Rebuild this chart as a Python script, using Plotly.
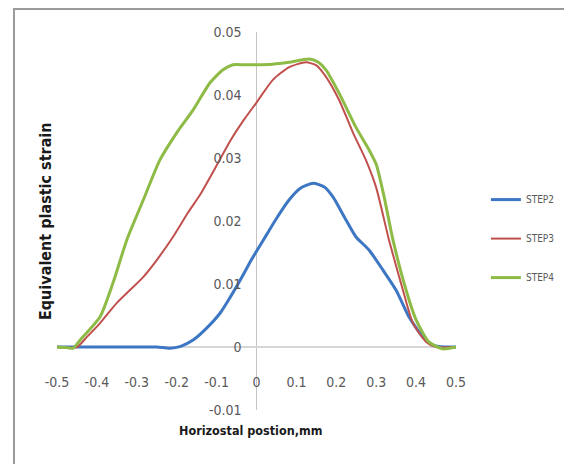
import plotly.graph_objects as go

# ---- data ----
x_step2 = [-0.5, -0.4, -0.3, -0.25, -0.217, -0.19, -0.159, -0.125, -0.091, -0.065, -0.041, -0.015,
           0.0, 0.025, 0.05, 0.081, 0.11, 0.142, 0.17, 0.192, 0.224, 0.249, 0.282, 0.317, 0.35,
           0.382, 0.417, 0.442, 0.47, 0.5]
y_step2 = [0, 0, 0, 0, -0.0002, 0.0001, 0.0011, 0.003, 0.0054, 0.008, 0.0106, 0.0136,
           0.0152, 0.0178, 0.0204, 0.0233, 0.0252, 0.026, 0.0254, 0.0238, 0.0202, 0.0175, 0.0154,
           0.0122, 0.009, 0.0048, 0.0016, 0.0003, 0, 0]

x_step3 = [-0.5, -0.45, -0.425, -0.392, -0.35, -0.284, -0.25, -0.209, -0.17, -0.143, -0.1, -0.066,
           -0.03, 0.0, 0.041, 0.081, 0.124, 0.15, 0.175, 0.207, 0.242, 0.274, 0.3, 0.332, 0.367,
           0.392, 0.425, 0.45, 0.5]
y_step3 = [0, 0, 0.0016, 0.0038, 0.007, 0.0111, 0.0138, 0.0175, 0.0215, 0.024, 0.0288, 0.0327,
           0.0362, 0.0388, 0.0424, 0.0444, 0.0452, 0.0447, 0.0428, 0.0392, 0.034, 0.0297, 0.0253,
           0.017, 0.009, 0.0038, 0.0008, 0, 0]

x_step4 = [-0.5, -0.475, -0.46, -0.442, -0.392, -0.36, -0.325, -0.284, -0.242, -0.2, -0.159, -0.117,
           -0.084, -0.059, -0.03, 0.0, 0.04, 0.081, 0.132, 0.155, 0.174, 0.207, 0.249, 0.282, 0.3,
           0.32, 0.342, 0.375, 0.4, 0.432, 0.467, 0.5]
y_step4 = [0, -0.0001, -0.0002, 0.0011, 0.0048, 0.0101, 0.017, 0.0233, 0.0297, 0.034, 0.0376,
           0.0419, 0.044, 0.0448, 0.0448, 0.0448, 0.0449, 0.0452, 0.0457, 0.0452, 0.044, 0.0403,
           0.0349, 0.0313, 0.029, 0.0238, 0.017, 0.009, 0.0043, 0.0008, -0.0003, 0]

series_names = ["STEP2", "STEP3", "STEP4"]
x_ticks = [-0.5, -0.4, -0.3, -0.2, -0.1, 0, 0.1, 0.2, 0.3, 0.4, 0.5]
x_tick_labels = ["-0.5", "-0.4", "-0.3", "-0.2", "-0.1", "0", "0.1", "0.2", "0.3", "0.4", "0.5"]
y_ticks = [-0.01, 0, 0.01, 0.02, 0.03, 0.04, 0.05]
y_tick_labels = ["-0.01", "0", "0.01", "0.02", "0.03", "0.04", "0.05"]
x_title = "Horizostal postion,mm"
y_title = "Equivalent plastic strain"

NARROW = "Liberation Sans Narrow, DejaVu Sans Condensed, Arial Narrow, sans-serif"

fig = go.Figure()
styles = [("#3D77C4", 3), ("#C0504D", 2), ("#8DBB45", 3)]
for name, xs, ys, (col, w) in zip(series_names, [x_step2, x_step3, x_step4],
                                   [y_step2, y_step3, y_step4], styles):
    fig.add_trace(go.Scatter(x=xs, y=ys, mode="lines", name=name, legendgroup=name,
                             line=dict(color=col, width=w, shape="spline", smoothing=0.6)))

fig.update_layout(
    width=572, height=464,
    margin=dict(l=49, r=124, t=24, b=62, autoexpand=False),
    paper_bgcolor="white", plot_bgcolor="white",
    showlegend=True,
    legend=dict(x=1.075, y=0.595, xanchor="left", yanchor="top",
                font=dict(family=NARROW, size=10, color="#595959"),
                tracegroupgap=20, bgcolor="rgba(0,0,0,0)"),
    xaxis=dict(range=[-0.5, 0.5], anchor="free", position=0.1667, automargin=False,
               tickmode="array", tickvals=x_ticks, ticktext=x_tick_labels,
               showgrid=False, showline=False, ticks="", ticklabelstandoff=25,
               zeroline=True, zerolinecolor="#C4C4C4", zerolinewidth=1,
               tickfont=dict(family=NARROW, size=14, color="#595959")),
    yaxis=dict(range=[-0.01, 0.05], anchor="free", position=0.5, automargin=False,
               tickmode="array", tickvals=y_ticks, ticktext=y_tick_labels,
               showgrid=False, showline=False, ticks="", ticklabelstandoff=15,
               zeroline=True, zerolinecolor="#D6D6D6", zerolinewidth=2,
               tickfont=dict(family=NARROW, size=14, color="#595959")),
    shapes=[dict(type="rect", xref="paper", yref="paper", x0=-0.1078, x1=1.5,
                 y0=-0.5, y1=1.0608, line=dict(color="#9A9A9A", width=2),
                 fillcolor="rgba(0,0,0,0)", layer="below")],
    annotations=[
        dict(text="<b>" + x_title + "</b>", xref="paper", yref="paper", x=0.486, y=-0.053,
             showarrow=False, xanchor="center", yanchor="middle",
             font=dict(family=NARROW, size=12.5, color="#1a1a1a")),
        dict(text="<b>" + y_title + "</b>", xref="paper", yref="paper", x=-0.03, y=0.5,
             showarrow=False, textangle=-90, xanchor="center", yanchor="middle",
             font=dict(family=NARROW, size=16, color="#1a1a1a")),
    ],
)

fig.write_html("out.html")
